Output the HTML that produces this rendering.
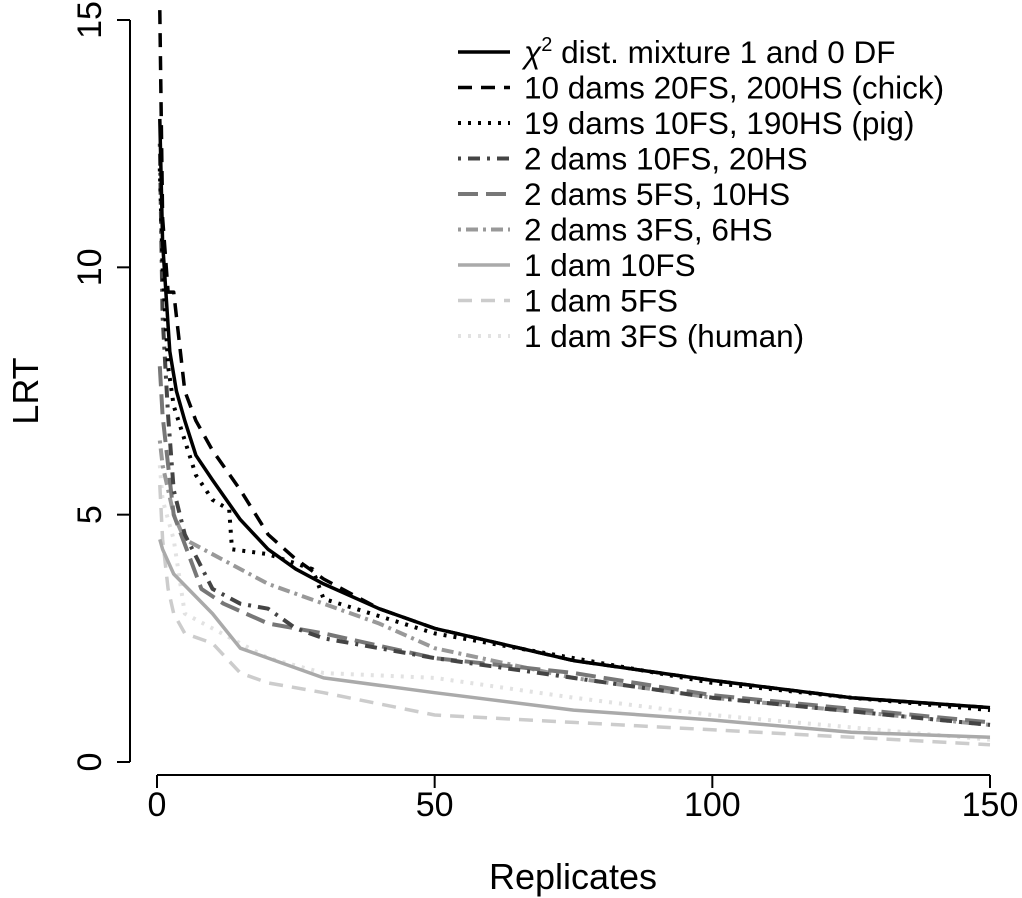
<!DOCTYPE html>
<html><head><meta charset="utf-8"><style>
html,body{margin:0;padding:0;background:#fff;}
svg{display:block;font-family:"Liberation Sans",Arial,sans-serif;}
</style></head><body>
<svg id="chart" width="1022" height="898" viewBox="0 0 1022 898" xmlns="http://www.w3.org/2000/svg">
<defs><clipPath id="plotclip"><rect x="130" y="0" width="892" height="775"/></clipPath></defs>
<g id="axes"></g>
<g id="series" clip-path="url(#plotclip)"></g>
<g id="legend"></g>
</svg>
<script>
const xTicks=[0,50,100,150];
const yTicks=[0,5,10,15];
const seriesNames=["χ2 dist. mixture 1 and 0 DF","10 dams 20FS, 200HS (chick)","19 dams 10FS, 190HS (pig)","2 dams 10FS, 20HS","2 dams 5FS, 10HS","2 dams 3FS, 6HS","1 dam 10FS","1 dam 5FS","1 dam 3FS (human)"];
const chiX=[0.5,1,2.3,3.5,5,7,10,15,20,25,30,40,50,75,100,125,150];
const chiY=[13,10.5,8.3,7.5,6.9,6.2,5.7,4.9,4.3,3.9,3.6,3.1,2.7,2.05,1.65,1.3,1.1];
const chickX=[0.5,1,2,3,5,7,10,15,20,25,30,40,50,75,100,125,150];
const chickY=[15.2,11,9.5,9.5,7.5,6.9,6.3,5.5,4.6,4.1,3.7,3.1,2.7,2.05,1.65,1.3,1.1];
const pigX=[0.5,1,2,3,5,7,10,13,13.5,20,28,30,50,75,100,125,150];
const pigY=[12,10,8,7.2,6.5,5.8,5.3,5.1,4.3,4.2,3.9,3.3,2.6,2.1,1.6,1.3,1.05];
const d10X=[0.5,1,2,3,5,10,15,20,25,30,50,75,100,150];
const d10Y=[12.5,9,7,5.5,4.6,3.5,3.2,3.1,2.7,2.5,2.1,1.7,1.3,0.75];
const d5X=[0.5,1,2,3,5,8,12,20,30,50,75,100,150];
const d5Y=[8,7,6,5,4.4,3.5,3.2,2.8,2.6,2.1,1.8,1.35,0.8];
const d3X=[0.5,1,2,3,5,10,20,30,40,50,75,100,150];
const d3Y=[6.5,6,5.5,5,4.5,4.2,3.6,3.2,2.8,2.3,1.7,1.3,0.75];
const s10X=[0.5,1,3,10,15,20,30,50,75,100,125,150];
const s10Y=[4.5,4.3,3.8,3.0,2.3,2.1,1.7,1.4,1.05,0.85,0.6,0.5];
const s5X=[0.5,1,2,3,5,10,15,20,30,50,75,100,150];
const s5Y=[5.6,4.5,3.5,3,2.6,2.4,1.8,1.6,1.4,0.95,0.8,0.65,0.35];
const s3X=[0.5,1,3,5,10,20,30,50,75,100,150];
const s3Y=[6,5.3,4.5,3,2.7,2.1,1.8,1.7,1.3,0.95,0.45];

const NS="http://www.w3.org/2000/svg";
function sx(v){return 157+v*(833/150);}
function sy(v){return 762-v*(742/15);}
function mk(tag,attrs,parent){const e=document.createElementNS(NS,tag);for(const k in attrs)e.setAttribute(k,attrs[k]);parent.appendChild(e);return e;}
const axes=document.getElementById('axes');
let e=mk('line',{x1:sx(0),x2:sx(150),y1:775,y2:775,stroke:'#000','stroke-width':2},axes);


e=mk('line',{x1:130,x2:130,y1:sy(0),y2:sy(15),stroke:'#000','stroke-width':2},axes);


xTicks.forEach(t=>{
  let l=mk('line',{x1:sx(t),x2:sx(t),y1:775,y2:788,stroke:'#000','stroke-width':2},axes);
  
  
  let tx=mk('text',{x:sx(t),y:816,'text-anchor':'middle','font-size':34},axes);
  tx.textContent=t;
  
  
});
yTicks.forEach(t=>{
  let l=mk('line',{x1:117,x2:130,y1:sy(t),y2:sy(t),stroke:'#000','stroke-width':2},axes);
  
  
  let tx=mk('text',{x:101,y:sy(t),'text-anchor':'middle','font-size':34,transform:`rotate(-90 101 ${sy(t)})`},axes);
  tx.textContent=t;
  
  
});
e=mk('text',{x:573,y:889,'text-anchor':'middle','font-size':36},axes);
e.textContent='Replicates';


e=mk('text',{x:38,y:391,'text-anchor':'middle','font-size':36,transform:'rotate(-90 38 391)'},axes);
e.textContent='LRT';



const styles=[
 {c:'#000',d:'',w:3.5},
 {c:'#000',d:'14 9',w:3.5},
 {c:'#000',d:'3 7',w:4},
 {c:'#444',d:'3 7 12 7',w:4},
 {c:'#777',d:'20 8',w:4},
 {c:'#999',d:'3 5 12 5',w:4},
 {c:'#aaa',d:'',w:3.5},
 {c:'#ccc',d:'14 9',w:3.5},
 {c:'#e2e2e2',d:'3 7',w:4}];
const xs=[chiX,chickX,pigX,d10X,d5X,d3X,s10X,s5X,s3X];
const ys=[chiY,chickY,pigY,d10Y,d5Y,d3Y,s10Y,s5Y,s3Y];
const keys=['chi2','chick','pig','2dams-10fs','2dams-5fs','2dams-3fs','1dam-10fs','1dam-5fs','1dam-3fs-human'];
const sg=document.getElementById('series');
for(let i=8;i>=0;i--){
  const pts=xs[i].map((x,j)=>sx(x).toFixed(1)+','+sy(ys[i][j]).toFixed(1)).join(' ');
  const p=mk('polyline',{points:pts,fill:'none',stroke:styles[i].c,'stroke-width':styles[i].w,'stroke-dasharray':styles[i].d,'stroke-linejoin':'round'},sg);
  
  
}
const lg=document.getElementById('legend');
seriesNames.forEach((n,i)=>{
  const y=52+35.5*i;
  const l=mk('line',{x1:458,x2:510,y1:y,y2:y,stroke:styles[i].c,'stroke-width':styles[i].w,'stroke-dasharray':styles[i].d},lg);
  
  
  const t=mk('text',{x:524,y:y+11,'font-size':31.5},lg);
  if(i===0){
    t.innerHTML='<tspan font-style="italic">χ</tspan><tspan dy="-12" font-size="20">2</tspan><tspan dy="12"> dist. mixture 1 and 0 DF</tspan>';
  } else t.textContent=n;
  
  
});
</script>
</body></html>
